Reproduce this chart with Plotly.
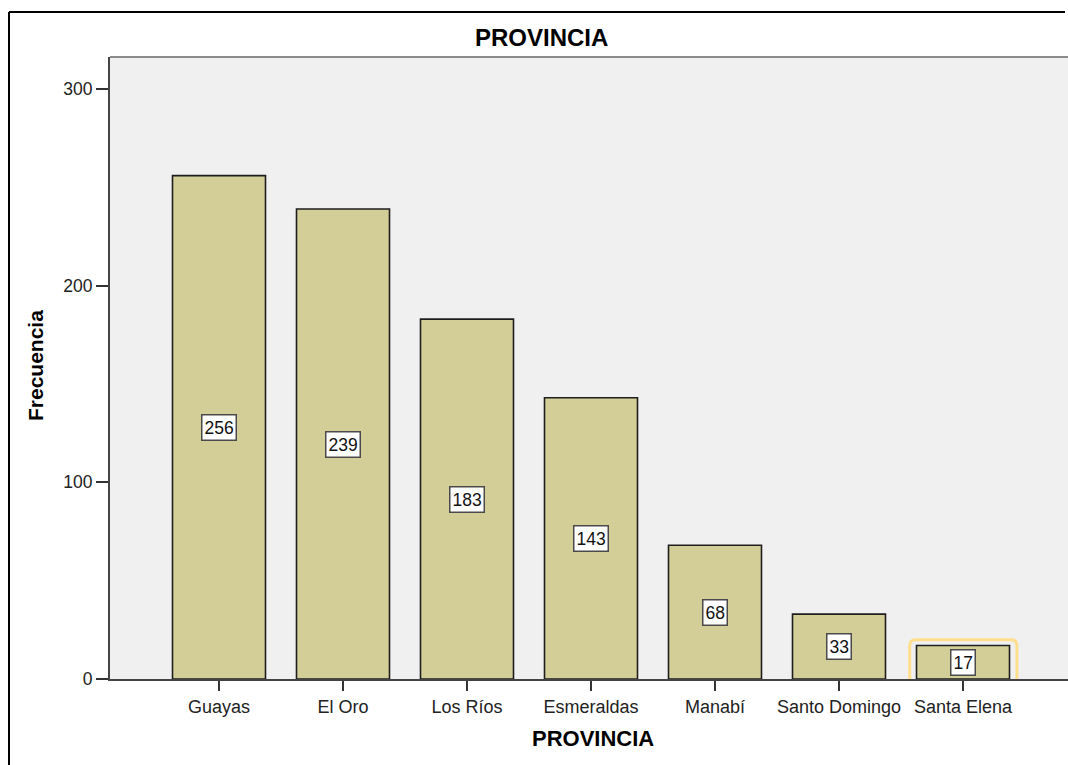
import plotly.graph_objects as go

# Frequency of records by province
provincias = ["Guayas", "El Oro", "Los Ríos", "Esmeraldas", "Manabí", "Santo Domingo", "Santa Elena"]
frecuencias = [256, 239, 183, 143, 68, 33, 17]
y_ticks = [0, 100, 200, 300]

BAR_FILL = "#D3CE97"
PLOT_BG = "#F0F0F0"
FONT = "Arial, Liberation Sans, sans-serif"

W, H = 1068, 765
M_L, M_T, M_R, M_B = 110, 57, 0, 86

x_idx = list(range(len(provincias)))

fig = go.Figure()
fig.add_trace(go.Bar(
    x=x_idx,
    y=frecuencias,
    width=0.75,
    marker=dict(color=BAR_FILL, line=dict(color="#1e1e1e", width=1.6)),
    hoverinfo="x+y",
))

# value labels in boxed tags at mid-height of each bar
annotations = []
for i, v in zip(x_idx, frecuencias):
    annotations.append(dict(
        x=i, y=v / 2, xref="x", yref="y", text=str(v), showarrow=False,
        font=dict(family=FONT, size=17.5, color="#111"),
        bgcolor="white", bordercolor="#4a4a4a", borderwidth=1.5, borderpad=2,
        xanchor="center", yanchor="middle",
    ))

plot_w = W - M_L - M_R
plot_h = H - M_T - M_B

def px_to_paper_x(px):
    return (px - M_L) / plot_w

def px_to_paper_y(py):
    return (H - M_B - py) / plot_h

# chart title and axis titles
annotations += [
    dict(text="<b>PROVINCIA</b>", x=px_to_paper_x(541), y=px_to_paper_y(37),
         xref="paper", yref="paper", showarrow=False, xanchor="center", yanchor="middle",
         font=dict(family=FONT, size=24, color="#000")),
    dict(text="<b>PROVINCIA</b>", x=px_to_paper_x(593), y=px_to_paper_y(738),
         xref="paper", yref="paper", showarrow=False, xanchor="center", yanchor="middle",
         font=dict(family=FONT, size=22, color="#000")),
    dict(text="<b>Frecuencia</b>", x=px_to_paper_x(35), y=px_to_paper_y(366),
         xref="paper", yref="paper", showarrow=False, xanchor="center", yanchor="middle",
         textangle=-90, font=dict(family=FONT, size=21, color="#000")),
]

# x range so categories sit 124 px apart starting at 219 px
unit = 124.0
x0 = -(219 - M_L) / unit
x1 = x0 + plot_w / unit
y_top = 316.3

# rounded highlight frame around the last bar
hi = len(provincias) - 1
hx0, hx1 = hi - 0.43, hi + 0.435
hy0, hy1 = -3.0, frecuencias[hi] + 3.0
rx = 6 / unit
ry = 6 / (plot_h / y_top)
path = (f"M {hx0 + rx},{hy0} L {hx1 - rx},{hy0} Q {hx1},{hy0} {hx1},{hy0 + ry} "
        f"L {hx1},{hy1 - ry} Q {hx1},{hy1} {hx1 - rx},{hy1} "
        f"L {hx0 + rx},{hy1} Q {hx0},{hy1} {hx0},{hy1 - ry} "
        f"L {hx0},{hy0 + ry} Q {hx0},{hy0} {hx0 + rx},{hy0} Z")

frame_x = px_to_paper_x(9)
frame_y = px_to_paper_y(12)
shapes = [
    # outer frame: left and top edges (the others fall outside the page)
    dict(type="line", xref="paper", yref="paper",
         x0=frame_x, x1=frame_x, y0=px_to_paper_y(H), y1=frame_y,
         line=dict(color="#000", width=2)),
    dict(type="line", xref="paper", yref="paper",
         x0=frame_x, x1=px_to_paper_x(W - 3), y0=frame_y, y1=frame_y,
         line=dict(color="#000", width=2)),
    # top edge of plot area
    dict(type="line", xref="paper", yref="paper", x0=0, x1=1, y0=1, y1=1,
         line=dict(color="#8a8a8a", width=2)),
    dict(type="path", xref="x", yref="y", path=path,
         line=dict(color="#FFDF8C", width=3), fillcolor="rgba(0,0,0,0)", layer="above"),
]

fig.update_layout(
    width=W, height=H,
    margin=dict(l=M_L, r=M_R, t=M_T, b=M_B, pad=0),
    paper_bgcolor="white", plot_bgcolor=PLOT_BG,
    showlegend=False, bargap=0.25,
    annotations=annotations, shapes=shapes,
    font=dict(family=FONT, size=17, color="#222"),
)
fig.update_xaxes(
    range=[x0, x1], tickmode="array", tickvals=x_idx, ticktext=provincias,
    showgrid=False, zeroline=False, showline=True, linecolor="#444", linewidth=2,
    ticks="outside", ticklen=10, tickwidth=2, tickcolor="#333",
    tickfont=dict(family=FONT, size=18, color="#222"), fixedrange=True,
)
fig.update_yaxes(
    range=[0, y_top], tickmode="array", tickvals=y_ticks,
    showgrid=False, zeroline=False, showline=True, linecolor="#444", linewidth=2,
    ticks="outside", ticklen=12, tickwidth=2, tickcolor="#333",
    tickfont=dict(family=FONT, size=17.5, color="#222"), fixedrange=True,
)

fig.write_html("out.html", config={"displayModeBar": False})
